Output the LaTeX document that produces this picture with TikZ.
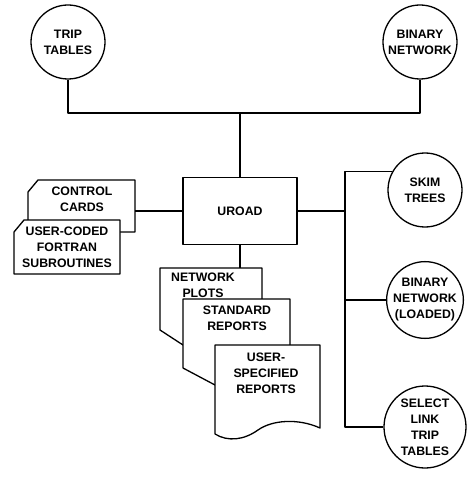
\documentclass[tikz,border=0pt]{standalone}
\usepackage{fontspec}
\setmainfont{Liberation Sans}
\begin{document}
\begin{tikzpicture}[x=1pt,y=-1pt,line width=1.3pt,line join=round,
  every node/.style={font=\bfseries\fontsize{12.3}{16}\selectfont,align=center},
  store/.style={circle,draw,minimum size=74pt,inner sep=0pt},
  prog/.style={rectangle,draw,minimum width=114pt,minimum height=67pt},
  txt/.style={inner sep=0pt},
  sheet/.style={draw,fill=white}]

\useasboundingbox (0,0) rectangle (474,478);

% data sets read
\node[store] (trip) at (68,42) {TRIP\\TABLES};
\node[store] (binnet) at (420,42) {BINARY\\NETWORK};
\coordinate (topjoin) at (240,113);

% the program
\node[prog] (uroad) at (240,211) {UROAD};
\draw (trip.south) |- (topjoin) -| (binnet.south);
\draw (topjoin) -- (uroad.north);

% cards
\draw[sheet] (28,192) -- (38,180) -- (135,180) coordinate (ctrlne) -- (135,232) -- (28,232) -- cycle;
\draw[sheet] (14,232) -- (24,220) -- (120,220) -- (120,274) -- (14,274) -- cycle;
\node[txt] (ctrl) at (82,199) {CONTROL\\CARDS};
\node[txt] (usercode) at (67,247) {USER-CODED\\FORTRAN\\SUBROUTINES};
\draw (uroad.west) -- (uroad.west -| ctrlne);

% printed output
\draw[sheet] (160,268) coordinate (plotsnw) -- (262,268) -- (262,345) -- (183,345) -- (160,330) -- cycle;
\draw[sheet] (183,299) -- (290,299) -- (290,385) -- (215,385) -- (183,368) -- cycle;
\draw[sheet] (215,345) -- (320,345) -- (320,428)
  .. controls (298,418) and (272,420) .. (258,430)
  .. controls (244,440) and (228,442) .. (215,434) -- cycle;
\node[txt] (plots) at (203,285) {NETWORK\\PLOTS};
\node[txt] (stdrep) at (237,318) {STANDARD\\REPORTS};
\node[txt] (userrep) at (266,373) {USER-\\SPECIFIED\\REPORTS};
\draw (uroad.south) -- (uroad.south |- plotsnw);

% data sets written
\node[store] (skim) at (425,190) {SKIM\\TREES};
\node[store] (loaded) at (425,300) {BINARY\\NETWORK\\(LOADED)};
\node[store,minimum size=82pt] (select) at (425,427) {SELECT\\LINK\\TRIP\\TABLES};
\coordinate (rbus) at (345,211);
\draw (uroad.east) -- (rbus);
\draw (skim.150) -| (rbus) |- (select.west);
\draw (loaded.west) -- (loaded.west -| rbus);

\end{tikzpicture}
\end{document}
